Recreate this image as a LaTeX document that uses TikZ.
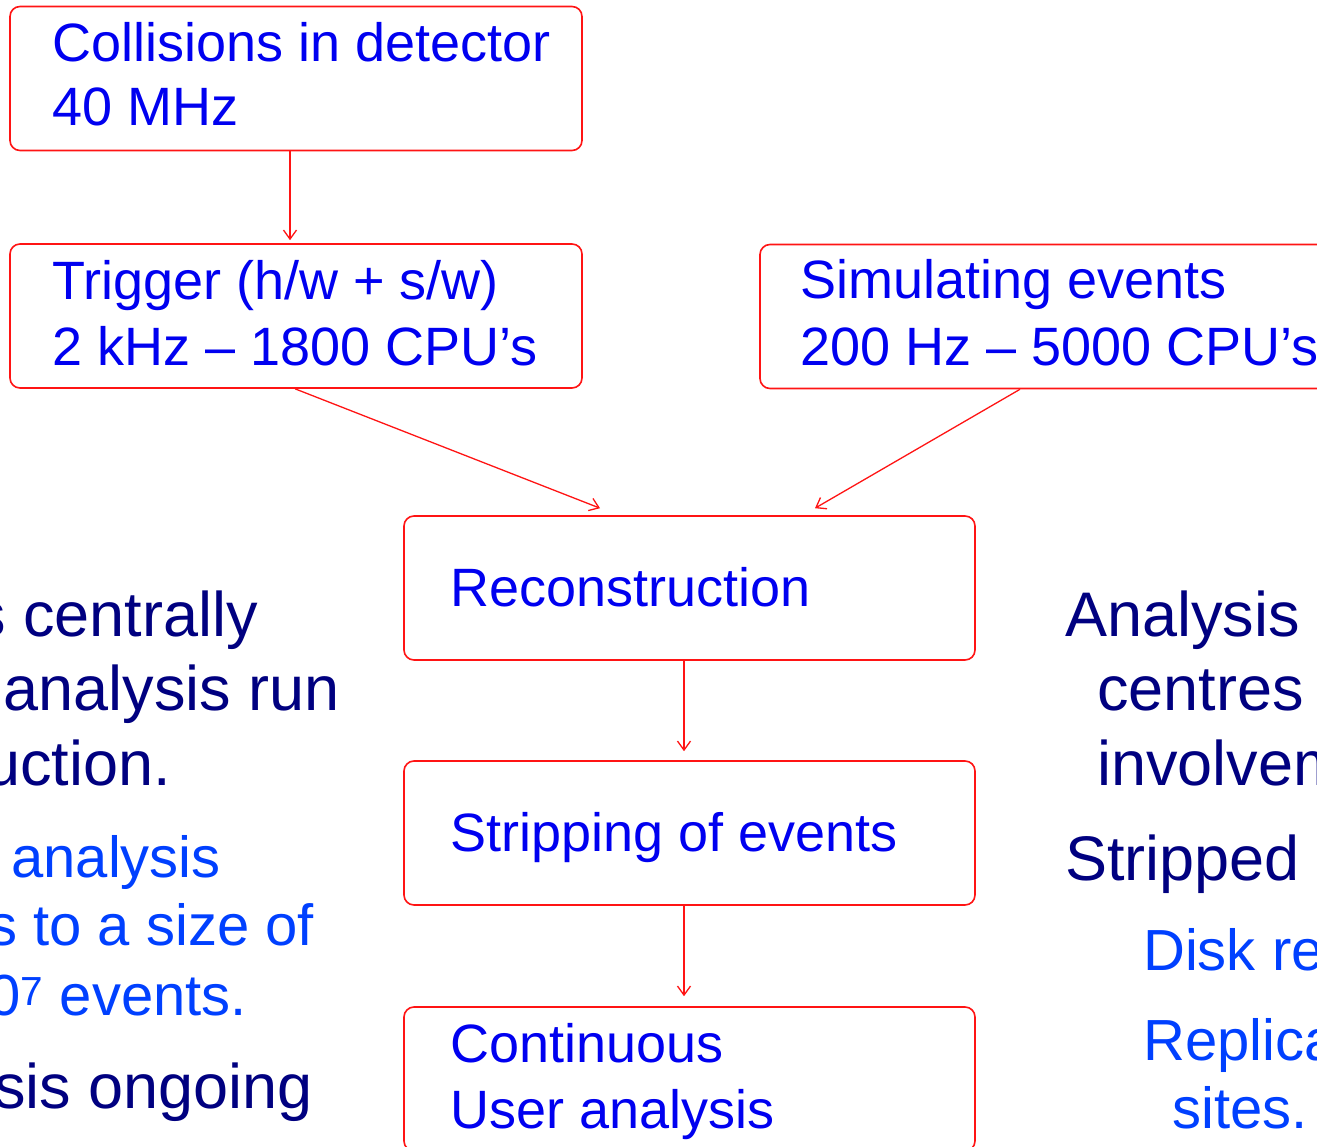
\documentclass[tikz,border=0pt]{standalone}
\usepackage{fontspec}
\setmainfont{Liberation Sans}
\usetikzlibrary{arrows.meta}
\definecolor{boxred}{RGB}{255,20,20}
\definecolor{boxblue}{RGB}{0,0,240}
\definecolor{navy}{RGB}{0,0,128}
\definecolor{lightblue}{RGB}{0,64,255}
\tikzset{
  stagebox/.style={draw=boxred, line width=1.6pt, rounded corners=10pt,
    minimum width=572pt, minimum height=144pt, inner sep=0pt},
  stagetext/.style={text=boxblue, anchor=base west, inner sep=0pt,
    font=\fontsize{54}{66}\selectfont},
  flow/.style={draw=boxred, line width=1.3pt,
    -{Straight Barb[length=9pt,width=13pt,line width=1.3pt]}},
  sidenavy/.style={text=navy, inner sep=0pt, font=\fontsize{63}{75}\selectfont},
  sideblue/.style={text=lightblue, inner sep=0pt, font=\fontsize{58}{70}\selectfont}
}
\begin{document}
\begin{tikzpicture}[x=1pt,y=-1pt]
\useasboundingbox (0,0) rectangle (1317,1147);
\clip (0,0) rectangle (1317,1147);
\fill[white] (0,0) rectangle (1317,1147);

% processing chain boxes
\node[stagebox] (b1) at (296,78.5) {};
\node[stagebox] (b2) at (296,316) {};
\node[stagebox] (b3) at (1046,316.5) {};
\node[stagebox, minimum width=571pt] (b4) at (689.5,588) {};
\node[stagebox, minimum width=571pt] (b5) at (689.5,833) {};
\node[stagebox, minimum width=571pt] (b6) at (689.5,1079) {};

% box labels
\node[stagetext] (t1a) at (52,62) {Collisions in detector};
\node[stagetext] (t1b) at (52,126) {40 MHz};
\node[stagetext] (t2a) at (52,300) {Trigger (h/w + s/w)};
\node[stagetext] (t2b) at (52,366) {2 kHz – 1800 CPU’s};
\node[stagetext] (t3a) at (800,299) {Simulating events};
\node[stagetext] (t3b) at (800,366) {200 Hz – 5000 CPU’s};
\node[stagetext] (t4) at (450,606) {Reconstruction};
\node[stagetext] (t5) at (450,851) {Stripping of events};
\node[stagetext] (t6a) at (450,1062) {Continuous};
\node[stagetext] (t6b) at (450,1128) {User analysis};

% connectors
\draw[flow, shorten >=3pt] ([xshift=-6pt]b1.south) -- ([xshift=-6pt]b2.north);
\draw[flow] ([xshift=-1pt]b2.south) -- ([xshift=-89.5pt,yshift=7pt]b4.north);
\draw[flow] ([xshift=-26pt]b3.south) -- ([xshift=125.5pt,yshift=7pt]b4.north);
\draw[flow, shorten >=9pt] ([xshift=-5.5pt]b4.south) -- ([xshift=-5.5pt]b5.north);
\draw[flow, shorten >=10pt] ([xshift=-5.5pt]b5.south) -- ([xshift=-5.5pt]b6.north);

% left column of notes
\node[sidenavy, anchor=base east] (l1) at (258,636) {s centrally};
\node[sidenavy, anchor=base east] (l2) at (340,710) {analysis run};
\node[sidenavy, anchor=base east] (l3) at (171,785) {uction.};
\node[sideblue, anchor=base east] (l4) at (221,877) {analysis};
\node[sideblue, anchor=base east] (l5) at (314,945) {s to a size of};
\node[sideblue, anchor=base east] (l6) at (247,1015) {0\textsuperscript{7} events.};
\node[sidenavy, anchor=base east] (l7) at (313,1108) {sis ongoing};

% right column of notes
\node[sidenavy, anchor=base west] (r1) at (1065,636) {Analysis};
\node[sidenavy, anchor=base west] (r2) at (1097,710) {centres};
\node[sidenavy, anchor=base west] (r3) at (1097,785) {involvem};
\node[sidenavy, anchor=base west] (r4) at (1065,880) {Stripped};
\node[sideblue, anchor=base west] (r5) at (1143,970) {Disk re};
\node[sideblue, anchor=base west] (r6) at (1143,1060) {Replica};
\node[sideblue, anchor=base west] (r7) at (1172,1128) {sites.};
\end{tikzpicture}
\end{document}
